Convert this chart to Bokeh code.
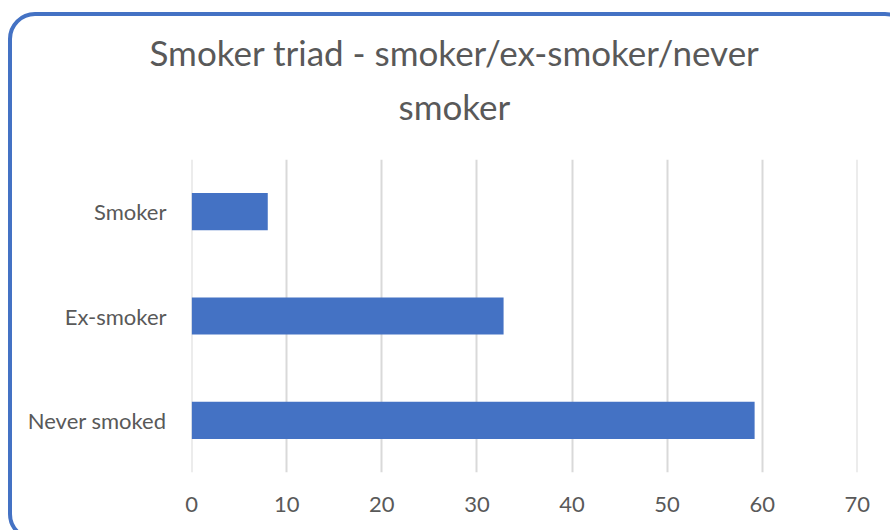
from bokeh.plotting import figure
from bokeh.models import Range1d, FixedTicker, Title, InlineStyleSheet
from bokeh.embed import file_html
from bokeh.resources import INLINE

# Survey data: share of respondents in each smoking group
categories = ["Never smoked", "Ex-smoker", "Smoker"]   # bottom to top
values = [59.2, 32.8, 8.0]
x_ticks = [0, 10, 20, 30, 40, 50, 60, 70]
title_lines = ["Smoker triad - smoker/ex-smoker/never", "smoker"]

FONT = "Lato"
TEXT = "#595959"
BAR = "#4472C4"
GRID = "#D9D9D9"

# Rounded blue frame drawn around the whole chart; its right and bottom
# edges run past the figure and are cut off
frame_css = InlineStyleSheet(css="""
:host { position: relative; overflow: hidden; }
:host::after {
  content: "";
  position: absolute;
  left: 8.3px; top: 12.3px;
  right: -21.75px; bottom: -10.75px;
  box-sizing: border-box;
  border: 4.5px solid #4472C4;
  border-radius: 27px;
  pointer-events: none;
  z-index: 10;
}
""")

p = figure(
    width=890, height=530,
    y_range=categories,
    # tiny padding so the 0 and 70 grid lines are drawn
    x_range=Range1d(x_ticks[0] - 0.02, x_ticks[-1] + 0.02),
    output_backend="svg", toolbar_location=None,
    min_border_left=191, min_border_right=33,
    min_border_top=159, min_border_bottom=58,
    background_fill_color="white", border_fill_color="white",
    stylesheets=[frame_css],
)
p.outline_line_color = None

p.hbar(y=categories, right=values, left=0, height=0.357,
       fill_color=BAR, line_color=None)

# x axis: value ticks, no line or tick marks
p.xaxis.ticker = FixedTicker(ticks=x_ticks)
p.xaxis.axis_line_color = None
p.xaxis.major_tick_line_color = None
p.xaxis.minor_tick_line_color = None
p.xaxis.major_label_standoff = 18
p.xaxis.major_label_text_font = FONT
p.xaxis.major_label_text_font_size = "22px"
p.xaxis.major_label_text_color = TEXT

# y axis: category names only
p.yaxis.axis_line_color = None
p.yaxis.major_tick_line_color = None
p.yaxis.major_label_standoff = 19
p.yaxis.major_label_text_font = FONT
p.yaxis.major_label_text_font_size = "22px"
p.yaxis.major_label_text_color = TEXT

p.xgrid.grid_line_color = GRID
p.xgrid.grid_line_width = 2
p.ygrid.grid_line_color = None

# Two-line chart title, stacked above the frame (inner line first)
offsets = [-42, 207]
standoffs = [-44, 65]
for text, off, so in reversed(list(zip(title_lines, offsets, standoffs))):
    p.add_layout(Title(
        text=text, align="left", offset=off, standoff=so,
        text_font=FONT, text_font_size="35px", text_font_style="normal",
        text_color=TEXT,
    ), "above")

open("out.html", "w").write(file_html(p, INLINE))
